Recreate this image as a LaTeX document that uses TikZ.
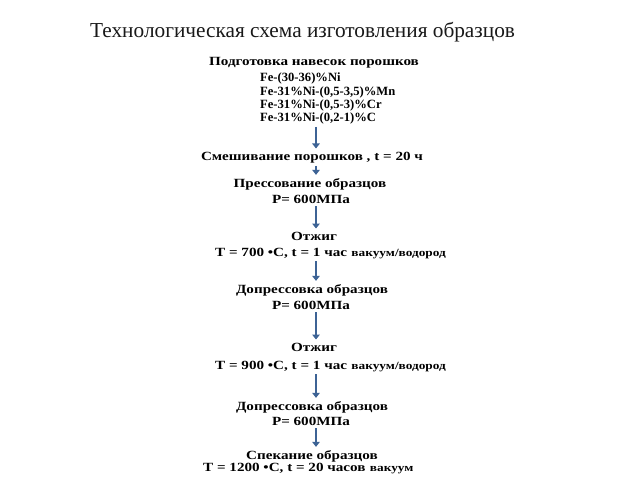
\documentclass[tikz,border=0pt]{standalone}
\usepackage{fontspec}
\setmainfont{Liberation Serif}
\newfontfamily\bodyfont[FakeStretch=1.21]{Liberation Serif}
\newfontfamily\fefont[FakeStretch=1.0]{Liberation Serif}
\usetikzlibrary{arrows.meta}
\definecolor{arrblue}{HTML}{3D6395}
\begin{document}
\begin{tikzpicture}[x=1pt,y=-1pt,
  ttl/.style={font=\fontsize{21.3}{21.3}\selectfont, inner sep=0pt, anchor=base west, text=black!90},
  lbl/.style={font=\bodyfont\bfseries\fontsize{12.5}{12.5}\selectfont, inner sep=0pt, anchor=base},
  lblw/.style={lbl, anchor=base west},
  fel/.style={font=\fefont\bfseries\fontsize{12.6}{12.6}\selectfont, inner sep=0pt, anchor=base west},
  sml/.style={font=\bodyfont\bfseries\fontsize{11}{11}\selectfont, inner sep=0pt, anchor=base west},
  arr/.style={arrblue, line width=2.6pt, -{Triangle[width=7.5pt,length=5pt]}, shorten <=3pt, shorten >=3pt}]
\useasboundingbox (0,0) rectangle (640,480);
\fill[white] (0,0) rectangle (640,480);
\coordinate (ax) at (316,0);
\node[ttl] (title) at (90,37) {Технологическая схема изготовления образцов};
\node[lbl] (h1) at (314,65) {Подготовка навесок порошков};
\node[fel] (f1) at (260,81) {Fe-(30-36)\%Ni};
\node[fel] (f2) at (260,95) {Fe-31\%Ni-(0,5-3,5)\%Mn};
\node[fel] (f3) at (260,108) {Fe-31\%Ni-(0,5-3)\%Cr};
\node[fel] (f4) at (260,121) {Fe-31\%Ni-(0,2-1)\%C};
\node[lbl] (mix) at (312,160) {Смешивание порошков , t = 20 ч};
\node[lbl] (pr) at (310,187) {Прессование образцов};
\node[lbl] (p1) at (311,203) {Р= 600МПа};
\node[lbl] (o1) at (314,240) {Отжиг};
\node[lblw] (t1) at (215,256) {T = 700 •C, t = 1 час};
\node[sml, xshift=4pt] (v1) at (t1.base east) {вакуум/водород};
\node[lbl] (d1) at (312,293) {Допрессовка образцов};
\node[lbl] (p2) at (311,309) {Р= 600МПа};
\node[lbl] (o2) at (314,351) {Отжиг};
\node[lblw] (t2) at (215,369) {T = 900 •C, t = 1 час};
\node[sml, xshift=4pt] (v2) at (t2.base east) {вакуум/водород};
\node[lbl] (d2) at (312,410) {Допрессовка образцов};
\node[lbl] (p3) at (311,425) {Р= 600МПа};
\node[lbl] (s1) at (312,459) {Спекание образцов};
\node[lblw] (t3) at (203,471) {T = 1200 •C, t = 20 часов};
\node[sml, xshift=4pt] (v3) at (t3.base east) {вакуум};
\draw[arr] (f4.south -| ax) -- (mix.north -| ax);
\draw[arr] (mix.south -| ax) -- (pr.north -| ax);
\draw[arr] (p1.south -| ax) -- (o1.north -| ax);
\draw[arr] (t1.south -| ax) -- (d1.north -| ax);
\draw[arr] (p2.south -| ax) -- (o2.north -| ax);
\draw[arr] (t2.south -| ax) -- (d2.north -| ax);
\draw[arr] (p3.south -| ax) -- (s1.north -| ax);
\end{tikzpicture}
\end{document}
